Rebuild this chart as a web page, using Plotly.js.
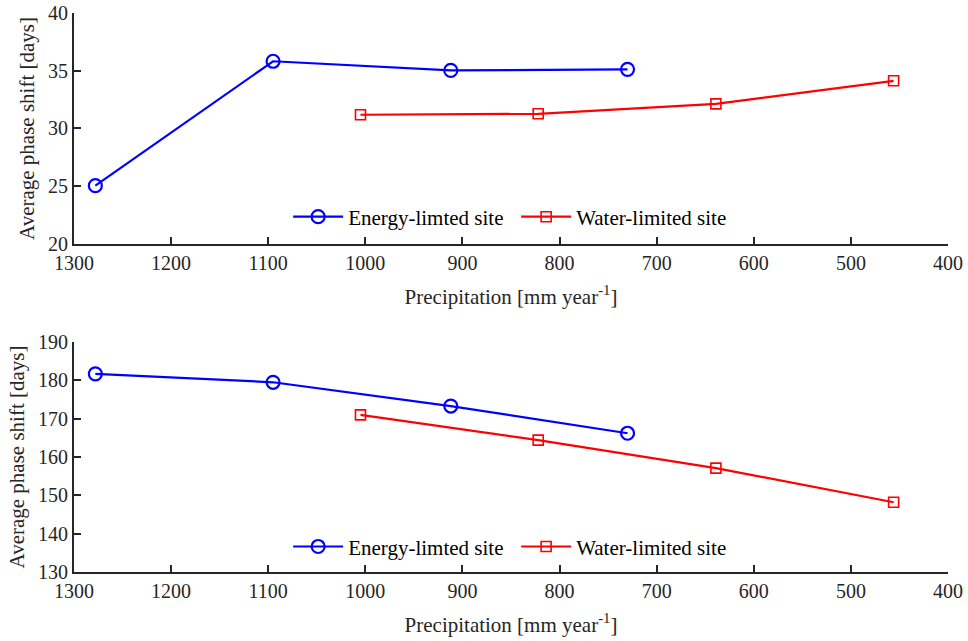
<!DOCTYPE html>
<html>
<head>
<meta charset="utf-8">
<script src="https://cdn.plot.ly/plotly-3.0.1.min.js"></script>
<style>html,body{margin:0;padding:0;background:#fff;}#chart{width:968px;height:641px;}</style>
</head>
<body>
<div id="chart"></div>
<script>
// Data
const energyPrecip = [1278, 1095, 912, 730];
const waterPrecip = [1005, 822, 639, 456];
const energyTop = [25.05, 35.82, 35.03, 35.12];
const waterTop = [31.19, 31.27, 32.13, 34.13];
const energyBottom = [181.7, 179.5, 173.3, 166.2];
const waterBottom = [171.0, 164.4, 157.1, 148.2];
const xTicks = [1300, 1200, 1100, 1000, 900, 800, 700, 600, 500, 400];
const yTicksTop = [20, 25, 30, 35, 40];
const yTicksBottom = [130, 140, 150, 160, 170, 180, 190];
const energyName = 'Energy-limted site';
const waterName = 'Water-limited site';
const xTitle = 'Precipitation [mm year<sup>-1</sup>]';
const yTitle = 'Average phase shift [days]';

const FONT = 'Liberation Serif, Times New Roman, serif';
const AX = '#262626';
const BLUE = '#0000ff';
const RED = '#ff0000';

function blue(x, y, xa, ya, lg) {
  return {x: x, y: y, xaxis: xa, yaxis: ya, legend: lg, name: energyName, type: 'scatter', mode: 'lines+markers',
    line: {color: BLUE, width: 2.2},
    marker: {symbol: 'circle-open', size: 13, color: BLUE, line: {width: 2.2, color: BLUE}}};
}
function red(x, y, xa, ya, lg) {
  return {x: x, y: y, xaxis: xa, yaxis: ya, legend: lg, name: waterName, type: 'scatter', mode: 'lines+markers',
    line: {color: RED, width: 2.2},
    marker: {symbol: 'square-open', size: 10, color: RED, line: {width: 1.6, color: RED}}};
}

const traces = [
  blue(energyPrecip, energyTop, 'x', 'y', 'legend'),
  red(waterPrecip, waterTop, 'x', 'y', 'legend'),
  blue(energyPrecip, energyBottom, 'x2', 'y2', 'legend2'),
  red(waterPrecip, waterBottom, 'x2', 'y2', 'legend2')
];

function xaxis(anchor) {
  return {anchor: anchor, range: [1300, 400], autorange: false, tickvals: xTicks, ticktext: xTicks.map(String),
    ticks: 'inside', ticklen: 7, tickwidth: 2, tickcolor: AX, showline: true, linecolor: AX, linewidth: 2,
    showgrid: false, zeroline: false, mirror: false,
    tickfont: {family: FONT, size: 20, color: AX},
    title: {text: xTitle, font: {family: FONT, size: 21, color: AX}, standoff: 16}};
}
function yaxis(anchor, dom, rng, ticks) {
  return {anchor: anchor, domain: dom, range: rng, autorange: false, tickvals: ticks,
    ticks: 'inside', ticklen: 7, tickwidth: 2, tickcolor: AX, showline: true, linecolor: AX, linewidth: 2,
    showgrid: false, zeroline: false,
    tickfont: {family: FONT, size: 20, color: AX},
    title: {text: yTitle, font: {family: FONT, size: 21, color: AX}, standoff: 8}};
}

const legendBase = {orientation: 'h', xanchor: 'left', yanchor: 'middle', x: 0.245,
  font: {family: FONT, size: 21, color: '#000'}, bgcolor: 'rgba(0,0,0,0)', borderwidth: 0,
  itemwidth: 50, tracegroupgap: 0, entrywidth: 163, entrywidthmode: 'pixels'};

const layout = {
  width: 968, height: 641,
  margin: {l: 74, r: 20, t: 13, b: 69},
  paper_bgcolor: '#fff', plot_bgcolor: '#fff',
  showlegend: true,
  xaxis: xaxis('y'),
  yaxis: yaxis('x', [0.5868, 1], [20, 40], yTicksTop),
  xaxis2: xaxis('y2'),
  yaxis2: yaxis('x2', [0, 0.4114], [130, 190], yTicksBottom),
  legend: Object.assign({}, legendBase, {y: 0.635}),
  legend2: Object.assign({}, legendBase, {y: 0.045})
};

Plotly.newPlot('chart', traces, layout, {displayModeBar: false, staticPlot: true});
</script>
</body>
</html>
